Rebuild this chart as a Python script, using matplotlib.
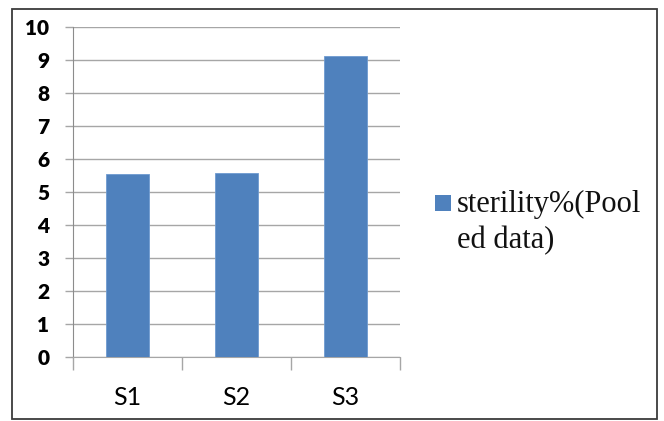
import matplotlib
matplotlib.use("Agg")
import matplotlib.pyplot as plt
from matplotlib.patches import Rectangle

# Sterility percentage, pooled data
categories = ["S1", "S2", "S3"]
sterility = [5.54, 5.57, 9.13]
series_label_lines = ["sterility%(Pool", "ed data)"]
y_ticks = list(range(0, 11))

W, H, DPI = 664, 421, 100
fig = plt.figure(figsize=(W / DPI, H / DPI), dpi=DPI)


def px(x, y):
    """Pixel position (from top-left) to figure fraction."""
    return x / W, 1 - y / H


# outer chart frame
fig.patches.append(Rectangle(px(12, 419), 645 / W, 410.5 / H,
                             transform=fig.transFigure, fill=False,
                             edgecolor="#3c3c3c", linewidth=1.3))

ax = fig.add_axes([73 / W, 1 - 357 / H, 327 / W, 330 / H])

bar_color = "#4F81BD"
positions = [i + 0.5 for i in range(len(categories))]
ax.bar(positions, sterility, width=0.39, color=bar_color,
       edgecolor="#6f9bd0", linewidth=0.6, zorder=3)

ax.set_xlim(0, len(categories))
ax.set_ylim(0, 10)

grid_c = "#a6a6a6"
ax.set_yticks(y_ticks)
ax.yaxis.grid(True, color=grid_c, linewidth=1.0, zorder=0)
ax.tick_params(axis="y", direction="out", length=6, width=1.0,
               color=grid_c, pad=11)
for lab in ax.get_yticklabels():
    lab.set_fontfamily("Lato")
    lab.set_fontweight("heavy")
    lab.set_fontsize(15)

# category boundaries as major ticks, names on minor ticks
ax.set_xticks(list(range(len(categories) + 1)))
ax.set_xticklabels([])
ax.tick_params(axis="x", which="major", direction="out", length=9,
               width=1.0, color=grid_c)
ax.set_xticks(positions, minor=True)
ax.set_xticklabels(categories, minor=True, fontfamily="Lato", fontsize=18)
ax.tick_params(axis="x", which="minor", length=0, pad=21)

for side in ("top", "right"):
    ax.spines[side].set_visible(False)
ax.spines["left"].set_color("#8c8c8c")
ax.spines["bottom"].set_color(grid_c)

# legend: square key beside a wrapped serif label
fig.patches.append(Rectangle(px(435, 211), 16 / W, 16 / H,
                             transform=fig.transFigure, facecolor=bar_color,
                             edgecolor="none"))
for text, base in zip(series_label_lines, (212, 248)):
    fig.text(*px(457, base), text, family="Liberation Serif", fontsize=22,
             ha="left", va="baseline", color="#111111")

fig.savefig("out.png", dpi=DPI)
